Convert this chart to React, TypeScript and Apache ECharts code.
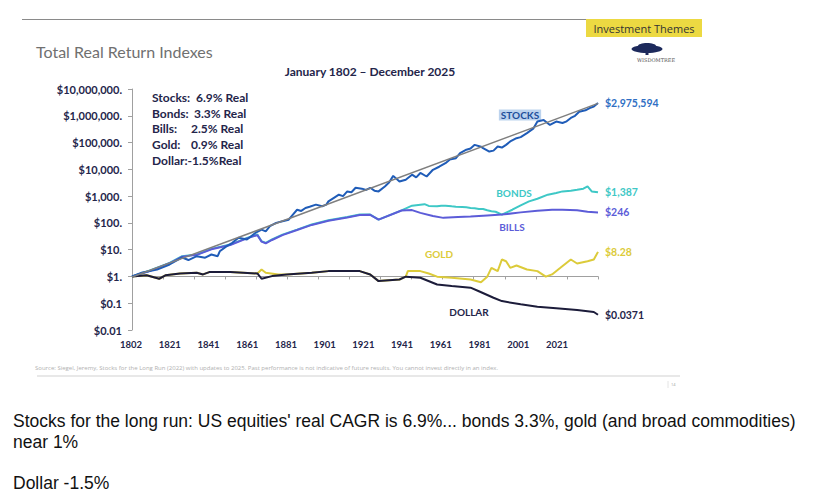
import React, { useEffect, useRef } from "react";
import * as echarts from "echarts";

// ---- Data ----
const xTickLabels = ["1802", "1821", "1841", "1861", "1881", "1901", "1921", "1941", "1961", "1981", "2001", "2021"];
const yTickLabels = ["$0.01", "$0.1", "$1.", "$10.", "$100.", "$1,000.", "$10,000.", "$100,000.", "$1,000,000.", "$10,000,000."];

const stockYears = [1802, 1807, 1814, 1820, 1826, 1829, 1833, 1837, 1840, 1843, 1844, 1847, 1850, 1853, 1857, 1861, 1864, 1866, 1868, 1871, 1874, 1877, 1879, 1881, 1883, 1885, 1887, 1890, 1893, 1895, 1896, 1899, 1901, 1903, 1905, 1907, 1909, 1912, 1914, 1916, 1918, 1920, 1923, 1925, 1927, 1930, 1933, 1936, 1938, 1940, 1943, 1946, 1949, 1952, 1954, 1957, 1959, 1962, 1964, 1966, 1969, 1970, 1973, 1975, 1977, 1979, 1981, 1983, 1986, 1988, 1991, 1994, 1996, 1999, 2002, 2005, 2008, 2010, 2012, 2014, 2016, 2019, 2021, 2023, 2025];
const stockValues = [1, 1.4, 1.8, 2.8, 5.1, 4.1, 5.7, 5.0, 6.6, 5.7, 8.7, 13, 18, 28, 24, 42, 56, 48, 75, 100, 115, 132, 204, 310, 280, 360, 400, 480, 420, 480, 635, 900, 1130, 1000, 1500, 1400, 2050, 1900, 1700, 2050, 1600, 1500, 2300, 3200, 5700, 3500, 4100, 6300, 5000, 7300, 5400, 9600, 12500, 17000, 23000, 26000, 40500, 54000, 60000, 82000, 70000, 62000, 46000, 50000, 71000, 65000, 82000, 110000, 145000, 160000, 224000, 330000, 610000, 700000, 455000, 610000, 540000, 620000, 830000, 1000000, 1420000, 1600000, 1950000, 2200000, 2975594];

const trendYears = [1802, 2025];
const trendValues = [0.95, 2900000];

const bondYears = [1802, 1810, 1820, 1826, 1833, 1840, 1849, 1857, 1862, 1864, 1866, 1869, 1874, 1881, 1888, 1896, 1905, 1911, 1916, 1920, 1931, 1936, 1938, 1940, 1942, 1944, 1948, 1950, 1952, 1955, 1957, 1960, 1962, 1964, 1966, 1968, 1970, 1972, 1974, 1976, 1979, 1984, 1988, 1992, 1996, 2001, 2005, 2008, 2012, 2015, 2018, 2020, 2022, 2025];
const bondValues = [1, 1.6, 3.2, 5.7, 6.6, 10.7, 15.5, 27.6, 36.6, 20.6, 17.9, 24, 36.6, 56, 87, 125, 167, 204, 204, 132, 295, 440, 460, 480, 500, 430, 415, 440, 440, 415, 400, 390, 380, 360, 350, 330, 330, 295, 270, 260, 204, 310, 450, 635, 800, 1130, 1300, 1500, 1600, 1740, 1900, 2300, 1500, 1387];

const billYears = [1802, 1810, 1820, 1826, 1833, 1840, 1849, 1857, 1862, 1864, 1866, 1869, 1874, 1881, 1888, 1896, 1905, 1911, 1916, 1920, 1931, 1936, 1940, 1946, 1951, 1958, 1964, 1972, 1979, 1988, 1996, 2003, 2008, 2015, 2020, 2025];
const billValues = [1, 1.55, 3.1, 5.5, 6.4, 10.3, 15, 26.5, 35, 20, 17.3, 23, 35, 54, 84, 120, 160, 196, 200, 132, 290, 300, 236, 180, 154, 165, 175, 190, 204, 247, 285, 310, 310, 295, 260, 246];

const goldYears = [1802, 1809, 1815, 1818, 1825, 1833, 1836, 1839, 1849, 1862, 1864, 1866, 1872, 1876, 1888, 1896, 1911, 1916, 1920, 1930, 1933, 1934, 1940, 1944, 1948, 1955, 1964, 1969, 1972, 1974, 1977, 1979, 1981, 1983, 1986, 1991, 1996, 2000, 2003, 2007, 2012, 2015, 2020, 2023, 2025];
const goldValues = [1, 1.1, 0.82, 1.1, 1.3, 1.37, 1.19, 1.45, 1.45, 1.29, 1.82, 1.37, 1.19, 1.19, 1.37, 1.58, 1.58, 1.19, 0.67, 0.77, 0.98, 1.58, 1.58, 1.29, 0.98, 0.89, 0.77, 0.61, 0.98, 2.1, 1.58, 4.3, 3.7, 2.1, 2.57, 1.82, 1.58, 0.98, 1.19, 2.1, 4.3, 3.05, 3.7, 4.3, 8.28];

const dollarYears = [1802, 1809, 1815, 1818, 1825, 1833, 1836, 1839, 1849, 1862, 1864, 1869, 1876, 1888, 1896, 1911, 1916, 1920, 1930, 1933, 1940, 1948, 1955, 1964, 1968, 1975, 1979, 1988, 1996, 2005, 2015, 2023, 2025];
const dollarValues = [1, 1.1, 0.82, 1.1, 1.3, 1.37, 1.19, 1.45, 1.45, 1.29, 0.82, 1.03, 1.19, 1.37, 1.58, 1.58, 1.19, 0.67, 0.77, 0.98, 0.89, 0.5, 0.44, 0.38, 0.28, 0.16, 0.12, 0.091, 0.074, 0.065, 0.056, 0.047, 0.0371];

const endLabelTexts = ["$1,387", "$246", "$8.28", "$0.0371", "$2,975,594"];
const seriesNames = ["Bonds", "Bills", "Gold", "Dollar", "Stocks"];
const seriesLabels = ["BONDS", "BILLS", "GOLD", "DOLLAR", "STOCKS"];

const statLabels = ["Stocks:", "Bonds:", "Bills:", "Gold:", "Dollar:-1.5%Real"];
const statValues = ["6.9% Real", "3.3% Real", "2.5% Real", "0.9% Real", ""];

const zip = (xs: number[], ys: number[]) => xs.map((x, i) => [x, ys[i]]);

const NAVY = "#24254a";
const COLORS = ["#3ec8c6", "#5c5cd8", "#dccb3a", "#1c1c3a", "#1f5cb8"];

export default function App() {
  const ref = useRef<HTMLDivElement>(null);

  useEffect(() => {
    if (!ref.current) return;
    const chart = echarts.init(ref.current, null, { renderer: "svg" });

    const datasets = [
      zip(bondYears, bondValues),
      zip(billYears, billValues),
      zip(goldYears, goldValues),
      zip(dollarYears, dollarValues),
      zip(stockYears, stockValues),
    ];

    const lineSeries: any[] = datasets.map((d, i) => ({
      name: seriesNames[i],
      type: "line",
      xAxisIndex: 0,
      yAxisIndex: 0,
      data: d,
      showSymbol: false,
      symbol: "none",
      lineStyle: { color: COLORS[i], width: 2 },
      itemStyle: { color: COLORS[i] },
      endLabel: {
        show: true,
        formatter: endLabelTexts[i],
        color: i === 4 ? "#2f6fc4" : i === 3 ? NAVY : COLORS[i],
        fontFamily: "Lato",
        fontWeight: "bold",
        fontSize: 10.5,
        distance: 7,
      },
    }));

    lineSeries.push({
      name: "Trend",
      type: "line",
      xAxisIndex: 0,
      yAxisIndex: 0,
      data: zip(trendYears, trendValues),
      showSymbol: false,
      symbol: "none",
      lineStyle: { color: "#7f7f7f", width: 1.5 },
    });

    const txt = (text: string, x: number, y: number, font: string, fill: string, align = "left", extra: any = {}) => ({
      type: "text",
      x,
      y,
      silent: true,
      style: {
        text,
        font,
        fill,
        textAlign: align,
        align,
        textVerticalAlign: "middle",
        verticalAlign: "middle",
        ...extra,
      },
    });

    const labelPos = [
      [514, 193],
      [512, 227],
      [439, 254],
      [469, 312],
      [520, 115],
    ];

    const graphics: any[] = [
      // header rule
      { type: "line", shape: { x1: 22, y1: 19.5, x2: 586, y2: 19.5 }, style: { stroke: "#8a8a8a", lineWidth: 1 } },
      { type: "rect", shape: { x: 586, y: 19, width: 116, height: 18 }, style: { fill: "#ecd942" } },
      txt("Investment Themes", 644, 28, "11px 'Open Sans'", "#333333", "center"),
      // WisdomTree logo (simplified)
      { type: "ellipse", shape: { cx: 647, cy: 49, rx: 15.5, ry: 4 }, style: { fill: "#1d2a5c" } },
      { type: "ellipse", shape: { cx: 647, cy: 46, rx: 9, ry: 3 }, style: { fill: "#1d2a5c" } },
      { type: "rect", shape: { x: 645.5, y: 50, width: 3, height: 5 }, style: { fill: "#1d2a5c" } },
      txt("WISDOMTREE", 656, 59.5, "5px 'DejaVu Serif'", "#555555", "center"),
      // titles
      txt("Total Real Return Indexes", 36, 51, "16px Lato", "#707070"),
      txt("January 1802 – December 2025", 370, 71, "bold 12px Lato", NAVY, "center"),
      // source & footer
      txt(
        "Source: Siegel, Jeremy, Stocks for the Long Run (2022) with updates to 2025. Past performance is not indicative of future results. You cannot invest directly in an index.",
        35, 368, "6px 'Open Sans'", "#b0b0b0"
      ),
      { type: "line", shape: { x1: 37, y1: 376, x2: 680, y2: 376 }, style: { stroke: "#e8e8e8", lineWidth: 2 } },
      { type: "line", shape: { x1: 668, y1: 381, x2: 668, y2: 388 }, style: { stroke: "#dddddd", lineWidth: 0.8 } },
      txt("14", 671, 384.5, "4px 'Open Sans'", "#999999"),
      // caption
      txt("Stocks for the long run: US equities' real CAGR is 6.9%... bonds 3.3%, gold (and broad commodities)", 13, 421, "17.5px 'Liberation Sans'", "#111111"),
      txt("near 1%", 13, 442, "17.5px 'Liberation Sans'", "#111111"),
      txt("Dollar -1.5%", 13, 483, "17.5px 'Liberation Sans'", "#111111"),
    ];

    const statValueX = [196, 194, 191, 191, 0];
    statLabels.forEach((s, i) => {
      const y = 97.5 + i * 15.7;
      graphics.push(txt(s, 152, y, "bold 12px Lato", NAVY));
      if (statValues[i]) graphics.push(txt(statValues[i], statValueX[i], y, "bold 12px Lato", NAVY));
    });

    seriesLabels.forEach((s, i) => {
      const isStocks = i === 4;
      graphics.push(
        txt(s, labelPos[i][0], labelPos[i][1], "bold 10px Lato", isStocks ? "#1e4f9c" : i === 3 ? NAVY : COLORS[i], "center",
          isStocks ? { backgroundColor: "#bcd3ee", padding: [1, 2, 0, 2] } : {})
      );
    });

    const option: any = {
      animation: false,
      grid: [
        { left: 132, right: 231, top: 89, bottom: 171 },
        { left: 131, right: 272, top: 89, bottom: 171 },
      ],
      xAxis: [
        { type: "value", gridIndex: 0, min: 1802, max: 2025, position: "top", show: false },
        {
          type: "value",
          gridIndex: 0,
          min: 0,
          max: 15,
          interval: 1,
          position: "bottom",
          offset: -(2 / 9) * 241,
          axisLine: { show: true, onZero: false, lineStyle: { color: "#a0a0a0", width: 1 } },
          axisTick: { show: true, length: 3, lineStyle: { color: "#a0a0a0" } },
          axisLabel: { show: false },
          splitLine: { show: false },
        },
        {
          type: "category",
          gridIndex: 1,
          data: xTickLabels,
          boundaryGap: false,
          axisLine: { show: false },
          axisTick: { show: false },
          axisLabel: { interval: 0, fontFamily: "Lato", fontWeight: "bold", fontSize: 9.5, color: NAVY, margin: 9 },
          splitLine: { show: false },
        },
      ],
      yAxis: [
        {
          type: "log",
          gridIndex: 0,
          logBase: 10,
          min: 0.01,
          max: 10000000,
          splitNumber: 9,
          axisLine: { show: true, lineStyle: { color: "#a0a0a0" } },
          axisTick: { show: true, length: 4, lineStyle: { color: "#a0a0a0" } },
          axisLabel: {
            fontFamily: "Lato",
            fontWeight: "bold",
            fontSize: 11,
            color: NAVY,
            margin: 10,
            formatter: (v: number) => yTickLabels[Math.round(Math.log10(v)) + 2] ?? "",
          },
          splitLine: { show: false },
        },
        { type: "value", gridIndex: 1, show: false },
      ],
      series: lineSeries,
      graphic: graphics,
    };

    chart.setOption(option);
    return () => chart.dispose();
  }, []);

  return <div ref={ref} style={{ position: "absolute", left: 0, top: 0, width: 829, height: 501 }} />;
}
